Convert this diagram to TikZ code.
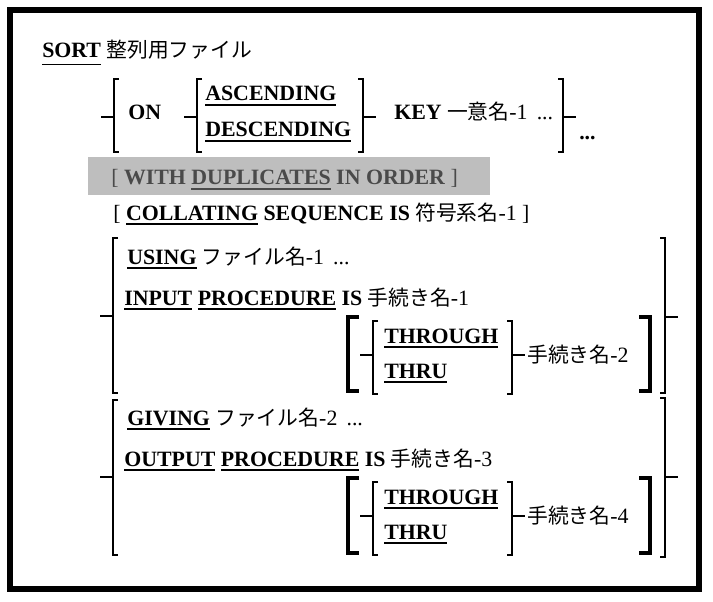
\documentclass[tikz,border=0pt]{standalone}
\usepackage{fontspec}
\setmainfont{Liberation Serif}
\newfontfamily\jp[Scale=0.95]{Noto Sans CJK JP}
\newsavebox\kwbox
\newcommand\kw[2][3.6pt]{\sbox\kwbox{\bfseries #2}\rlap{\rule[-#1]{\wd\kwbox}{1.1pt}}\usebox\kwbox}
\definecolor{graybox}{HTML}{BEBEBE}
\definecolor{graytxt}{HTML}{4A4A4A}
\tikzset{
  txt/.style={inner sep=0pt, anchor=base west, font=\fontsize{16.4}{19}\selectfont},
  thinbr/.style={line width=1.2pt, line join=miter},
  tickln/.style={line width=1.8pt},
  thickbr/.style={line width=3.2pt, line join=miter},
  frame/.style={line width=4.5pt}
}
\newcommand\LBr[4]{\draw[thinbr] (#1+5,#2) -- (#1,#2) -- (#1,#3) -- (#1+5,#3);
  \draw[tickln] (#1,#4) -- (#1-13,#4);}
\newcommand\RBr[4]{\draw[thinbr] (#1-5,#2) -- (#1,#2) -- (#1,#3) -- (#1-5,#3);
  \draw[tickln] (#1,#4) -- (#1+13,#4);}
\newcommand\LTk[3]{\draw[thickbr] (#1+11,#2) -- (#1,#2) -- (#1,#3) -- (#1+11,#3);}
\newcommand\RTk[3]{\draw[thickbr] (#1-11,#2) -- (#1,#2) -- (#1,#3) -- (#1-11,#3);}
\begin{document}
\begin{tikzpicture}[x=0.75pt,y=-0.75pt]
\useasboundingbox (0,0) rectangle (713,602);
\fill[white] (0,0) rectangle (713,602);
\draw[frame] (10,10) rectangle (699,589);
% SORT
\node[txt] (sort) at (42,58) {\kw[5.5pt]{SORT} {\jp 整列用ファイル}};
% ON group
\LBr{114}{79}{152}{117}
\node[txt] (on) at (128,120) {\textbf{ON}};
\LBr{197}{79}{152}{117}
\node[txt] (asc) at (205,101) {\kw{ASCENDING}};
\node[txt] (desc) at (205,137) {\kw{DESCENDING}};
\RBr{363}{79}{152}{117}
\node[txt] (key) at (394,120) {\textbf{KEY} {\jp 一意名}-1 \,...};
\RBr{563}{79}{152}{117}
\node[txt] (ell) at (579,140) {\textbf{...}};
% duplicates
\fill[graybox] (88,157) rectangle (490,195);
\node[txt, text=graytxt] (dup) at (111,185) {[ \textbf{WITH} \kw{DUPLICATES} \textbf{IN ORDER} ]};
% collating
\node[txt] (coll) at (113,220) {[ \kw{COLLATING} \textbf{SEQUENCE IS} {\jp 符号系名}-1 ]};
% group 1
\LBr{113}{238}{393}{316}
\node[txt] (using) at (127,264) {\kw{USING} {\jp ファイル名}-1 \,...};
\node[txt] (input) at (124,305) {\kw{INPUT} \kw{PROCEDURE} \textbf{IS} {\jp 手続き名}-1};
\LTk{348}{317}{391}
\LBr{373}{321}{394}{355}
\node[txt] (thr1) at (384,343) {\kw{THROUGH}};
\node[txt] (thru1) at (384,378) {\kw{THRU}};
\RBr{512}{321}{394}{355}
\node[txt] (p2) at (527,362) {{\jp 手続き名}-2};
\RTk{650}{317}{391}
\RBr{665}{238}{393}{317}
% group 2
\LBr{113}{400}{555}{477}
\node[txt] (giving) at (127,425) {\kw{GIVING} {\jp ファイル名}-2 \,...};
\node[txt] (output) at (124,466) {\kw{OUTPUT} \kw{PROCEDURE} \textbf{IS} {\jp 手続き名}-3};
\LTk{348}{478}{553}
\LBr{373}{482}{555}{516}
\node[txt] (thr2) at (384,504) {\kw{THROUGH}};
\node[txt] (thru2) at (384,539) {\kw{THRU}};
\RBr{512}{482}{555}{516}
\node[txt] (p4) at (527,523) {{\jp 手続き名}-4};
\RTk{650}{478}{553}
\RBr{665}{398}{557}{477}
\end{tikzpicture}
\end{document}
